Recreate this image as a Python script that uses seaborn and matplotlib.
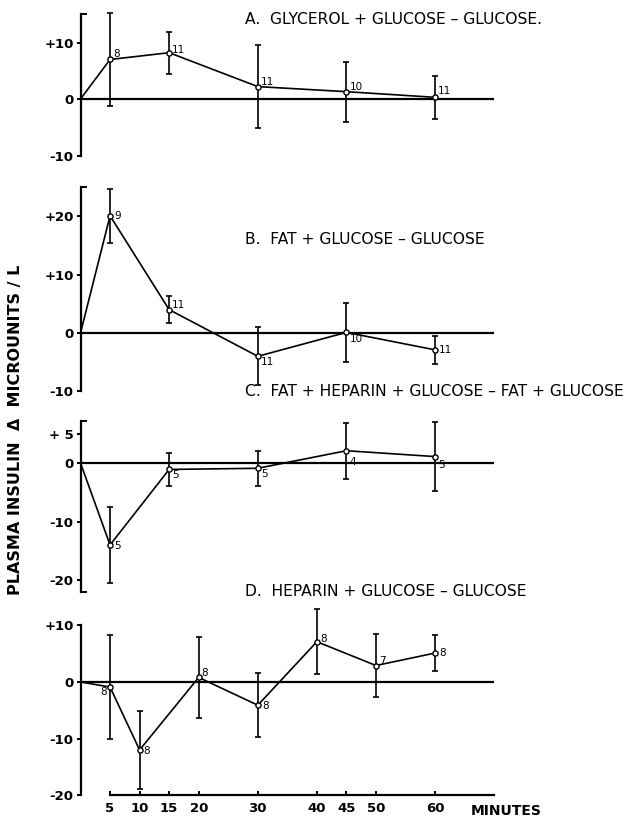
import matplotlib
matplotlib.use("Agg")
import matplotlib.pyplot as plt
import pandas as pd
import seaborn as sns


# time after start (min), mean difference in plasma insulin, SEM, n
A_MIN = [0, 5, 15, 30, 45, 60]
A_MEAN = [0, 7.0, 8.2, 2.2, 1.3, 0.3]
A_SEM = [0, 8.3, 3.7, 7.3, 5.3, 3.8]
A_N = ["", "8", "11", "11", "10", "11"]

B_MIN = [0, 5, 15, 30, 45, 60]
B_MEAN = [0, 20.1, 4.0, -4.0, 0.1, -2.9]
B_SEM = [0, 4.6, 2.3, 5.0, 5.0, 2.4]
B_N = ["", "9", "11", "11", "10", "11"]

C_MIN = [0, 5, 15, 30, 45, 60]
C_MEAN = [0, -14.0, -1.1, -0.9, 2.1, 1.1]
C_SEM = [0, 6.5, 2.8, 3.0, 4.8, 5.9]
C_N = ["", "5", "5", "5", "4", "5"]

D_MIN = [0, 5, 10, 20, 30, 40, 50, 60]
D_MEAN = [0, -0.9, -12.0, 0.8, -4.1, 7.1, 2.9, 5.1]
D_SEM = [0, 9.2, 6.8, 7.1, 5.6, 5.7, 5.6, 3.1]
D_N = ["", "8", "8", "8", "8", "8", "7", "8"]

TITLES = [
    "A.  GLYCEROL + GLUCOSE \u2013 GLUCOSE.",
    "B.  FAT + GLUCOSE \u2013 GLUCOSE",
    "C.  FAT + HEPARIN + GLUCOSE \u2013 FAT + GLUCOSE",
    "D.  HEPARIN + GLUCOSE \u2013 GLUCOSE",
]
X_TICKS = [5, 10, 15, 20, 30, 40, 45, 50, 60]
X_END = 70

W, H = 626, 821


def add_panel(fig, top_px, bottom_px, ylim):
    ax = fig.add_axes([80.5 / W, 1 - bottom_px / H, 543.7 / W, (bottom_px - top_px) / H])
    ax.set_xlim(0, 92)
    ax.set_ylim(*ylim)
    ax.patch.set_alpha(0)
    return ax


def draw(ax, minutes, mean, sem, counts, offsets):
    df = pd.DataFrame({"minutes": minutes, "insulin": mean, "sem": sem, "n": counts})
    pts = df.iloc[1:]
    ax.hlines(0, 0, X_END, color="black", lw=1.6, zorder=1)
    sns.lineplot(data=df, x="minutes", y="insulin", color="black", lw=1.2,
                 sort=False, ax=ax, zorder=2)
    ax.errorbar(pts["minutes"], pts["insulin"], yerr=pts["sem"], fmt="none",
                ecolor="black", elinewidth=1.2, capsize=2.2, capthick=1.2, zorder=3)
    sns.scatterplot(data=pts, x="minutes", y="insulin", s=14, color="white",
                    edgecolor="black", linewidth=1.0, zorder=4, ax=ax)
    for (_, r), (dx, dy) in zip(pts.iterrows(), offsets):
        ax.annotate(r["n"], (r["minutes"], r["insulin"]), xytext=(dx, dy),
                    textcoords="offset pixels", ha="left" if dx >= 0 else "right",
                    va="center", fontsize=7.5)
    ax.set_xlabel("")
    ax.set_ylabel("")


def style_y(ax, ticks, labels, bounds):
    ax.spines[["top", "right"]].set_visible(False)
    ax.spines["left"].set_bounds(*bounds)
    ax.spines["left"].set_linewidth(1.6)
    ax.set_yticks(ticks)
    ax.set_yticklabels(labels, fontsize=9.5, fontweight="bold")
    ax.tick_params(axis="y", direction="out", length=3, width=1.4, pad=2)
    ax.set_yticks(list(bounds), minor=True)
    ax.tick_params(axis="y", which="minor", direction="in", length=4, width=1.4)


def main():
    sns.set_theme(style="ticks", rc={
        "text.color": "black",
        "axes.edgecolor": "black",
        "axes.labelcolor": "black",
        "xtick.color": "black",
        "ytick.color": "black",
    })
    plt.rcParams["font.family"] = ["DejaVu Sans"]

    fig = plt.figure(figsize=(W / 100, H / 100), dpi=100)
    fig.patch.set_facecolor("white")

    ax_a = add_panel(fig, 3, 166.8, (-12, 17))
    ax_b = add_panel(fig, 181.4, 397.1, (-11, 26))
    ax_c = add_panel(fig, 416.2, 597.6, (-23, 8))
    ax_d = add_panel(fig, 602.6, 801, (-21, 14))

    draw(ax_a, A_MIN, A_MEAN, A_SEM, A_N, [(3, 5), (3, 3), (3, 5), (3, 5), (3, 6)])
    draw(ax_b, B_MIN, B_MEAN, B_SEM, B_N, [(4, 0), (3, 5), (3, -6), (3, -7), (4, 0)])
    draw(ax_c, C_MIN, C_MEAN, C_SEM, C_N, [(4, -1), (3, -6), (3, -6), (3, -11), (3, -8)])
    draw(ax_d, D_MIN, D_MEAN, D_SEM, D_N,
         [(-3, -5), (4, -1), (3, 4), (4, -1), (3, 3), (3, 5), (4, 0)])

    style_y(ax_a, [-10, 0, 10], ["-10", "0", "+10"], (-10, 15))
    style_y(ax_b, [-10, 0, 10, 20], ["-10", "0", "+10", "+20"], (-10, 25))
    style_y(ax_c, [-20, -10, 0, 5], ["-20", "-10", "0", "+ 5"], (-22, 7.2))
    style_y(ax_d, [-20, -10, 0, 10], ["-20", "-10", "0", "+10"], (-20, 10))

    for ax in (ax_a, ax_b, ax_c):
        ax.spines["bottom"].set_visible(False)
        ax.set_xticks([])

    ax_d.spines["bottom"].set_position(("data", -20))
    ax_d.spines["bottom"].set_bounds(5, X_END)
    ax_d.spines["bottom"].set_linewidth(1.6)
    ax_d.set_xticks(X_TICKS)
    ax_d.set_xticklabels([str(t) for t in X_TICKS], fontsize=9.5, fontweight="bold")
    ax_d.tick_params(axis="x", direction="in", length=3, width=1.4, pad=5)
    ax_d.annotate("MINUTES", (66, -20), xytext=(0, -9), textcoords="offset pixels",
                  ha="left", va="top", fontsize=10, fontweight="bold")

    title_y = [14.0, 16.0, 12.2, 15.9]
    for ax, title, ty in zip((ax_a, ax_b, ax_c, ax_d), TITLES, title_y):
        ax.text(27.9, ty, title, ha="left", va="center", fontsize=11.2, clip_on=False)

    fig.text(16 / W, 1 - 430 / H, "PLASMA INSULIN  \u0394  MICROUNITS / L", rotation=90,
             ha="center", va="center", fontsize=11.5, fontweight="bold")

    fig.savefig("out.png", dpi=100)
    plt.close(fig)


if __name__ == "__main__":
    main()
